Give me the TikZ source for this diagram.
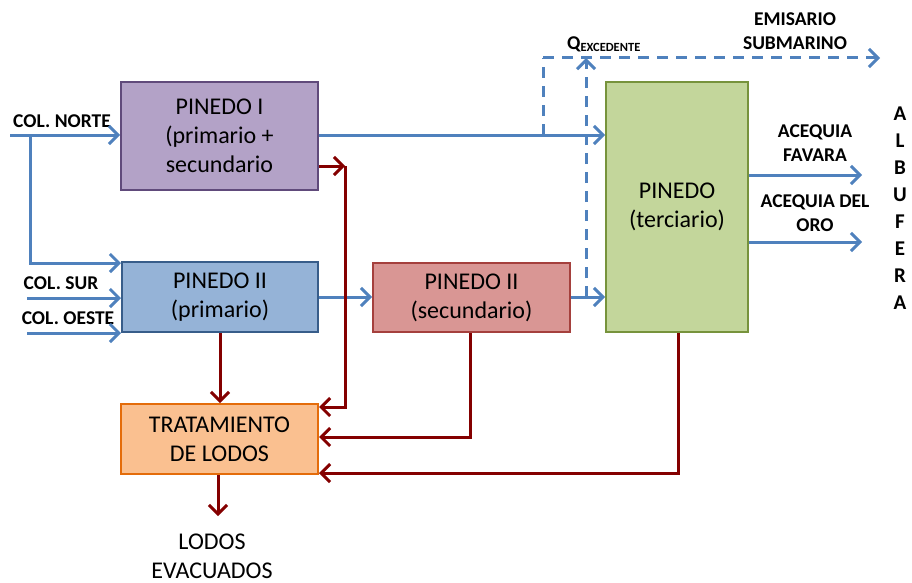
\documentclass[tikz,border=0pt]{standalone}
\usepackage{fontspec}
\setmainfont{Carlito}
\usetikzlibrary{arrows.meta}
\definecolor{lblue}{HTML}{4F81BD}
\definecolor{dred}{HTML}{840000}
\tikzset{
  boxx/.style={draw, line width=2pt, align=center, inner sep=0pt, font=\fontsize{24}{29}\selectfont},
  blu/.style={draw=lblue, line width=3pt, -{Straight Barb[length=9pt,width=18pt,line width=3pt]}},
  red/.style={draw=dred, line width=3pt, -{Straight Barb[length=9pt,width=18pt,line width=3pt]}},
  dsh/.style={draw=lblue, line width=3pt, dash pattern=on 11pt off 8pt},
  lbl/.style={font=\bfseries\fontsize{19.5}{23.5}\selectfont, align=center, inner sep=0pt},
  txt/.style={font=\fontsize{24}{29}\selectfont, align=center, inner sep=0pt}
}
\begin{document}
\begin{tikzpicture}[x=1pt,y=-1pt]
\useasboundingbox (0,0) rectangle (912,583);
% boxes
\node[boxx, fill={rgb,255:red,179;green,162;blue,199}, draw={rgb,255:red,96;green,74;blue,123}, minimum width=197pt, minimum height=108pt] (p1) at (219.5,136) {PINEDO I\\(primario +\\secundario};
\node[boxx, fill={rgb,255:red,149;green,179;blue,215}, draw={rgb,255:red,56;green,93;blue,138}, minimum width=196pt, minimum height=70pt] (p2) at (220,297) {PINEDO II\\(primario)};
\node[boxx, fill={rgb,255:red,217;green,150;blue,148}, draw={rgb,255:red,165;green,64;blue,61}, minimum width=197pt, minimum height=69pt] (p2s) at (471.5,297.5) {PINEDO II\\(secundario)};
\node[boxx, fill={rgb,255:red,195;green,214;blue,155}, draw={rgb,255:red,119;green,147;blue,60}, minimum width=142pt, minimum height=250pt] (pt) at (677,207) {PINEDO\\(terciario)};
\node[boxx, fill={rgb,255:red,250;green,192;blue,144}, draw={rgb,255:red,228;green,108;blue,10}, minimum width=197pt, minimum height=70pt] (tl) at (219.5,439) {TRATAMIENTO\\DE LODOS};
% labels
\node[lbl] (lcn) at (62,121) {COL. NORTE};
\node[lbl] (lcs) at (61,283) {COL. SUR};
\node[lbl] (lco) at (68,318) {COL. OESTE};
\node[lbl, anchor=base west] (lq) at (567,50) {Q\raisebox{-2pt}{\fontsize{12.5}{14}\selectfont EXCEDENTE}};
\node[lbl] (lem) at (795,31) {EMISARIO\\SUBMARINO};
\node[lbl] (laf) at (815,143) {ACEQUIA\\FAVARA};
\node[lbl] (lao) at (815,213) {ACEQUIA DEL\\ORO};
\node[lbl, font=\bfseries\fontsize{21}{27}\selectfont] (lal) at (900,208) {A\\L\\B\\U\\F\\E\\R\\A};
\node[txt] (lle) at (212,556) {LODOS\\EVACUADOS};
% coordinates
\coordinate (cn) at (10,135);
\coordinate (cnb) at (30,135);
\coordinate (cs) at (27,298);
\coordinate (co) at (27,333);
\coordinate (d1) at (543,135);
\coordinate (d1t) at (543,58);
\coordinate (d2) at (586,297);
\coordinate (d2t) at (586,58);
\coordinate (em) at (880,58);
\coordinate (af) at (862,175);
\coordinate (ao) at (862,242);
\coordinate (r1) at (345,166);
\coordinate (r1b) at (345,407);
\coordinate (r2) at (470,437);
\coordinate (r3) at (678,473);
\coordinate (lo) at (218,516);
% blue flows
\draw[blu] (cn) -- (p1.west|-cn);
\draw[blu] (cnb) |- (p2.west|-0,263);
\draw[blu] (cs) -- (p2.west|-cs);
\draw[blu] (co) -- (p2.west|-co);
\draw[blu] (p1.east|-cn) -- (pt.west|-cn);
\draw[blu] (p2.east|-d2) -- (p2s.west|-d2);
\draw[blu] (p2s.east|-d2) -- (pt.west|-d2);
\draw[blu] (pt.east|-af) -- (af);
\draw[blu] (pt.east|-ao) -- (ao);
% dashed
\draw[dsh] (d1) -- (d1t);
\draw[dsh, -{Straight Barb[length=9pt,width=18pt,line width=3pt]}] (d2) -- (d2t);
\draw[dsh, -{Straight Barb[length=9pt,width=18pt,line width=3pt]}] (d1t) -- (em);
% red flows
\draw[red] (p1.east|-r1) -- (r1);
\draw[red] (r1) -- (r1b) -- (tl.east|-r1b);
\draw[red] (p2.south) -- (p2.south|-tl.north);
\draw[red] (p2s.south-|r2) |- (tl.east|-r2);
\draw[red] (pt.south-|r3) |- (tl.east|-r3);
\draw[red] (tl.south-|lo) -- (lo);
\end{tikzpicture}
\end{document}
